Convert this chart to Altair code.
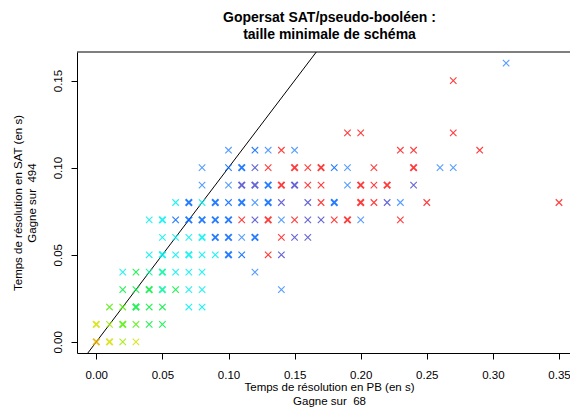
import altair as alt
import pandas as pd

# ---- data (times in hundredths of a second) ----
# each row: PB time, SAT time, colour class, overplotted (1 = darker/bolder cross)
x_pb = [0, 1, 2, 3,
        0, 1, 2, 3, 4, 5,
        1, 2, 3, 4, 5, 7, 8,
        2, 3, 4, 5, 6, 7, 8, 14,
        2, 3, 4, 5, 6, 7, 8, 12,
        4, 5, 6, 7, 8, 9, 10, 11, 13, 14,
        5, 6, 7, 8, 9, 10, 11, 12, 14, 15, 16,
        4, 5, 6, 7, 8, 9, 10, 11, 12, 13, 14, 15, 16, 17, 18, 19, 20, 23,
        6, 7, 8, 9, 10, 11, 12, 13, 14, 16, 17, 18, 20, 21, 22, 23, 25, 35,
        8, 10, 11, 12, 13, 14, 15, 16, 17, 19, 20, 21, 22, 24,
        8, 10, 11, 12, 13, 15, 16, 17, 18, 19, 21, 24, 26, 27,
        10, 12, 13, 14, 15, 23, 24, 29,
        19, 20, 27,
        27,
        31]
y_sat = [0, 0, 0, 0,
         1, 1, 1, 1, 1, 1,
         2, 2, 2, 2, 2, 2, 2,
         3, 3, 3, 3, 3, 3, 3, 3,
         4, 4, 4, 4, 4, 4, 4, 4,
         5, 5, 5, 5, 5, 5, 5, 5, 5, 5,
         6, 6, 6, 6, 6, 6, 6, 6, 6, 6, 6,
         7, 7, 7, 7, 7, 7, 7, 7, 7, 7, 7, 7, 7, 7, 7, 7, 7, 7,
         8, 8, 8, 8, 8, 8, 8, 8, 8, 8, 8, 8, 8, 8, 8, 8, 8, 8,
         9, 9, 9, 9, 9, 9, 9, 9, 9, 9, 9, 9, 9, 9,
         10, 10, 10, 10, 10, 10, 10, 10, 10, 10, 10, 10, 10, 10,
         11, 11, 11, 11, 11, 11, 11, 11,
         12, 12, 12,
         15,
         16]
colour = ["or", "ye", "yg", "ye",
          "ye", "yg", "lg", "lg", "gr", "gr",
          "lg", "lg", "gr", "gr", "gr", "cy", "cy",
          "gr", "gr", "gr", "sg", "gr", "cy", "cy", "lb",
          "cy", "gr", "sg", "sg", "cy", "cy", "cy", "lb",
          "cy", "cy", "cy", "cy", "cy", "cy", "bl", "bl", "rd", "pu",
          "cy", "cy", "cy", "cy", "bl", "bl", "lb", "bl", "rd", "pu", "pu",
          "cy", "cy", "bl", "bl", "bl", "bl", "bl", "rd", "pu", "rd", "lb", "rd", "pu", "pu", "rd", "rd", "lb", "rd",
          "cy", "bl", "cy", "bl", "bl", "bl", "lb", "bl", "pu", "pu", "rd", "bl", "rd", "rd", "pu", "lb", "rd", "rd",
          "lb", "lb", "pu", "pu", "bl", "rd", "pu", "rd", "rd", "lb", "rd", "rd", "rd", "pu",
          "lb", "bl", "bl", "pu", "rd", "rd", "rd", "rd", "bl", "lb", "rd", "rd", "lb", "lb",
          "lb", "bl", "lb", "rd", "lb", "rd", "rd", "rd",
          "rd", "rd", "rd",
          "rd",
          "lb"]
heavy = [1, 1, 0, 0,
         1, 0, 1, 0, 0, 0,
         0, 0, 1, 0, 0, 0, 0,
         0, 0, 1, 1, 0, 0, 0, 0,
         0, 0, 0, 1, 0, 0, 0, 0,
         0, 1, 0, 1, 0, 0, 1, 0, 0, 0,
         0, 0, 0, 1, 1, 1, 0, 1, 0, 0, 0,
         0, 1, 0, 1, 1, 1, 1, 0, 0, 1, 0, 0, 0, 0, 0, 1, 0, 0,
         0, 1, 0, 1, 0, 1, 0, 1, 0, 0, 0, 1, 1, 0, 0, 0, 0, 0,
         0, 0, 1, 1, 1, 1, 1, 0, 0, 0, 1, 0, 1, 0,
         0, 0, 1, 0, 0, 1, 0, 1, 0, 0, 0, 1, 0, 0,
         0, 0, 0, 0, 0, 0, 0, 0,
         0, 0, 0,
         0,
         0]

colour_codes = ["or", "ye", "yg", "lg", "gr", "sg", "cy", "bl", "lb", "pu", "rd"]
colour_hex = ["#E6B000", "#D6E000", "#9AEC00", "#4CF000", "#00F03C", "#00F5A0",
              "#00F0F0", "#0066FF", "#3A8CFF", "#4B4BD0", "#FF1A1A"]

x_ticks = [0.0, 0.05, 0.10, 0.15, 0.20, 0.25, 0.30, 0.35]
y_ticks = [0.0, 0.05, 0.10, 0.15]

title_lines = ["Gopersat SAT/pseudo-booléen :", "taille minimale de schéma"]
x_title = ["Temps de résolution en PB (en s)", "Gagne sur \u00a068"]
y_title = ["Temps de résolution en SAT (en s)", "Gagne sur \u00a0494"]

W, H = 493, 301
X_DOMAIN = [-0.0146, -0.0146 + W / 1322]
Y_DOMAIN = [-0.0064, 0.1664]
FONT = "Liberation Sans"

df = pd.DataFrame({
    "x": [v / 100 for v in x_pb],
    "y": [v / 100 for v in y_sat],
    "col": colour,
    "heavy": heavy,
})
diag = pd.DataFrame({"x": [X_DOMAIN[0], Y_DOMAIN[1]], "y": [X_DOMAIN[0], Y_DOMAIN[1]]})
one = pd.DataFrame({"k": [0]})

xs = alt.Scale(domain=X_DOMAIN, nice=False, zero=False)
ys = alt.Scale(domain=Y_DOMAIN, nice=False, zero=False)

x_axis = alt.Axis(values=x_ticks, format=".2f", title=x_title, grid=False,
                  tickSize=6, labelPadding=10, labelFlush=False, labelOverlap=False,
                  titleY=37.4, titleX=252, titleBaseline="alphabetic",
                  titleAlign="center", titleLineHeight=13.8)
y_axis = alt.Axis(values=y_ticks, format=".2f", title=y_title, grid=False,
                  tickSize=6, labelPadding=9.5, labelAngle=270, labelAlign="center",
                  labelBaseline="alphabetic", labelFlush=False, labelOverlap=False,
                  titleAngle=270, titleX=-56, titleBaseline="alphabetic",
                  titleAlign="center", titleLineHeight=14.8)

points = alt.Chart(df).mark_point(
    shape="M-1,-1L1,1M1,-1L-1,1", filled=False, size=42, opacity=0.85
).encode(
    x=alt.X("x:Q", scale=xs, axis=x_axis),
    y=alt.Y("y:Q", scale=ys, axis=y_axis),
    color=alt.Color("col:N", scale=alt.Scale(domain=colour_codes, range=colour_hex), legend=None),
    strokeWidth=alt.StrokeWidth("heavy:Q", scale=alt.Scale(domain=[0, 1], range=[1.1, 1.9]), legend=None),
)

line = alt.Chart(diag).mark_line(color="black", strokeWidth=1, clip=True).encode(
    x=alt.X("x:Q", scale=xs),
    y=alt.Y("y:Q", scale=ys),
)

top_rule = alt.Chart(one).mark_rule(color="black", strokeWidth=1).encode(
    x=alt.value(0), x2=alt.value(W), y=alt.value(0)
)

chart = alt.layer(line, points, top_rule).properties(
    width=W, height=H,
    title=alt.TitleParams(text=title_lines, font=FONT, fontSize=14, fontWeight="bold",
                          color="black", anchor="middle", frame="group",
                          baseline="bottom", offset=10, lineHeight=16.5, dy=14, dx=6),
    padding={"left": 69, "top": 44, "right": 0, "bottom": 58},
    autosize=alt.AutoSizeParams(type="none"),
    background="white",
).configure_view(strokeWidth=0).configure_axis(
    labelFont=FONT, labelFontSize=11.5, labelColor="black",
    titleFont=FONT, titleFontSize=11.5, titleFontWeight="normal", titleColor="black",
    domainColor="black", domainWidth=1, tickColor="black", tickWidth=1,
)

chart.save("out.html", embed_options={"renderer": "svg", "actions": False})
